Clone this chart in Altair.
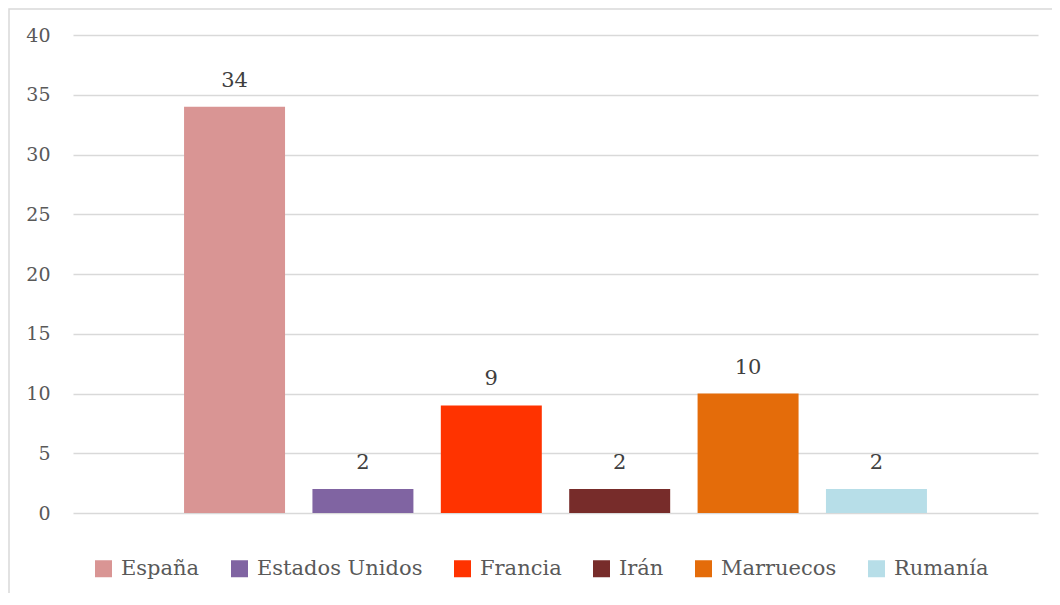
import altair as alt
import pandas as pd

paises = ["España", "Estados Unidos", "Francia", "Irán", "Marruecos", "Rumanía"]
valores = [34, 2, 9, 2, 10, 2]
colores = ["#d99594", "#8064a2", "#ff3300", "#772c2a", "#e46c0a", "#b7dee8"]
ticks_y = [0, 5, 10, 15, 20, 25, 30, 35, 40]

FONT = "DejaVu Serif"

df = pd.DataFrame({"pais": paises, "valor": valores})

base = alt.Chart(df).encode(
    x=alt.X("pais:N", sort=paises, axis=None,
            scale=alt.Scale(paddingInner=0.2134, paddingOuter=0.865))
)

bars = base.mark_bar().encode(
    y=alt.Y("valor:Q", scale=alt.Scale(domain=[0, 40], nice=False),
            axis=alt.Axis(values=ticks_y, grid=True, gridColor="#d9d9d9", gridWidth=1.3,
                          domain=False, ticks=False, tickSize=0, labelPadding=23,
                          labelFont=FONT, labelFontSize=19, labelColor="#595959",
                          title=None)),
    color=alt.Color("pais:N", sort=paises,
                    scale=alt.Scale(domain=paises, range=colores),
                    legend=alt.Legend(orient="none", legendX=20, legendY=523,
                                      direction="horizontal", title=None,
                                      symbolType="square", symbolSize=289,
                                      symbolStrokeWidth=0, symbolOpacity=1,
                                      labelFont=FONT, labelFontSize=21,
                                      labelColor="#595959", labelOffset=7,
                                      columnPadding=29, labelLimit=400, padding=0))
)

labels = base.mark_text(dy=-20, baseline="alphabetic", font=FONT, fontSize=21,
                        color="#404040").encode(
    y=alt.Y("valor:Q"),
    text=alt.Text("valor:Q")
)

frame = alt.Chart(pd.DataFrame({"k": [0]})).mark_rect(
    filled=False, color="#d9d9d9", strokeWidth=1.5
).encode(
    x=alt.value(-64), x2=alt.value(1200), y=alt.value(-26), y2=alt.value(800)
)

chart = alt.layer(frame, bars, labels).properties(
    width=965, height=478,
    autosize=alt.AutoSizeParams(type="none"),
    padding={"left": 65, "top": 27, "right": 14, "bottom": 80},
).configure(
    background="white",
    view=alt.ViewConfig(stroke="transparent", strokeWidth=0),
)

chart.save("out.html", embed_options={"renderer": "svg", "actions": False})
